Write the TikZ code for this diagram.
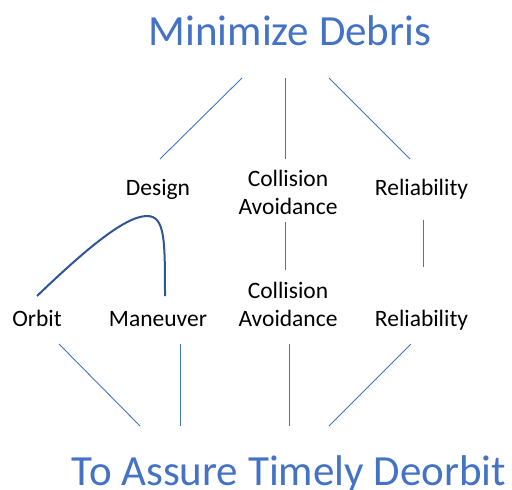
\documentclass[tikz,border=0pt]{standalone}
\usepackage{fontspec}
\setmainfont{Carlito}
\definecolor{accent}{HTML}{4472C4}
\definecolor{deepblue}{HTML}{2F5597}
\begin{document}
\begin{tikzpicture}[x=1pt,y=-1pt,
  title/.style={text=accent,font=\fontsize{43}{50}\selectfont,anchor=base,inner sep=0pt},
  label/.style={text=black,font=\fontsize{23.5}{27.5}\selectfont,anchor=base,inner sep=0pt,align=center},
  link/.style={draw=accent,line width=0.9pt},
  arc/.style={draw=deepblue,line width=2pt}]
\useasboundingbox (0,0) rectangle (512,490);

% headings
\node[title] (top) at (290,45) {Minimize Debris};
\node[title] (bottom) at (289,485) {To Assure Timely Deorbit};

% upper row (multi-line nodes sit on the baseline of their last line)
\node[label] (design) at (158,195) {Design};
\node[label] (ca1) at (288,214) {Collision\\Avoidance};
\node[label] (rel1) at (421.5,195) {Reliability};

% lower row
\node[label] (orbit) at (37,326) {Orbit};
\node[label] (man) at (158,326) {Maneuver};
\node[label] (ca2) at (288,326) {Collision\\Avoidance};
\node[label] (rel2) at (421.5,326) {Reliability};

% connector end points
\coordinate (t1) at (242,78);  \coordinate (d1) at (160,159);
\coordinate (t2) at (285,78);  \coordinate (d2) at (285,159);
\coordinate (t3) at (329,78);  \coordinate (d3) at (410,159);
\coordinate (m1) at (285,222); \coordinate (m2) at (285,270);
\coordinate (r1) at (423,220); \coordinate (r2) at (423,267);
\coordinate (b1) at (59,344);  \coordinate (e1) at (140,426);
\coordinate (b2) at (180,344); \coordinate (e2) at (180,426);
\coordinate (b3) at (289,344); \coordinate (e3) at (289,426);
\coordinate (b4) at (411,344); \coordinate (e4) at (329,426);
\coordinate (o) at (37,296);   \coordinate (pk) at (147,216);
\coordinate (mv) at (165,296);

\draw[link] (t1) -- (d1);
\draw[link] (t2) -- (d2);
\draw[link] (t3) -- (d3);
\draw[link] (m1) -- (m2);
\draw[link] (r1) -- (r2);
\draw[link] (b1) -- (e1);
\draw[link] (b2) -- (e2);
\draw[link] (b3) -- (e3);
\draw[link] (b4) -- (e4);

% orbit-to-maneuver arc
\draw[arc] (o) .. controls (85,250) and (125,216) .. (pk)
  .. controls (165,216) and (165,240) .. (mv);
\end{tikzpicture}
\end{document}
